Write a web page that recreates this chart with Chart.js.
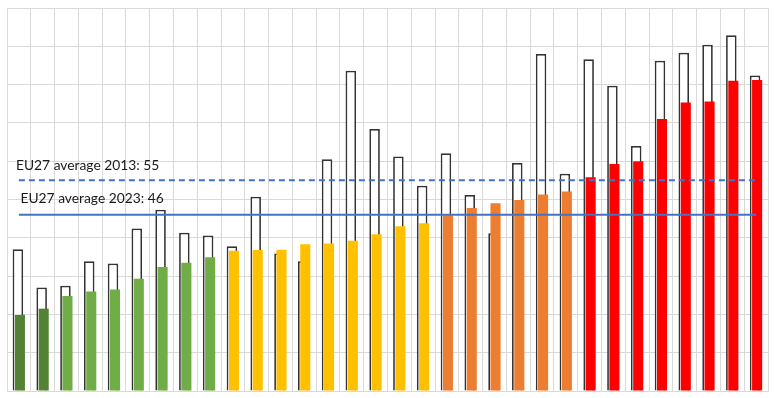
<!DOCTYPE html>
<html>
<head>
<meta charset="utf-8">
<script src="https://cdn.jsdelivr.net/npm/chart.js@4.4.1/dist/chart.umd.min.js"></script>
<style>
  html, body { margin: 0; padding: 0; background: #fff; }
  #wrap { width: 776px; height: 398px; }
</style>
</head>
<body>
<div id="wrap"><canvas id="chart"></canvas></div>
<script>
// one entry per country, sorted by the 2023 value
const categories = ["1", "2", "3", "4", "5", "6", "7", "8", "9", "10", "11", "12", "13", "14", "15", "16",
  "17", "18", "19", "20", "21", "22", "23", "24", "25", "26", "27", "28", "29", "30", "31", "32"];
const values2013 = [37.0, 27.0, 27.5, 33.9, 33.3, 42.4, 47.3, 41.3, 40.6, 37.8, 50.7, 35.9, 33.9, 60.5, 83.6, 68.4,
  61.2, 53.6, 62.1, 51.2, 41.2, 59.5, 88.0, 56.7, 86.6, 79.7, 64.0, 86.2, 88.3, 90.4, 92.9, 82.4];
const values2023 = [19.9, 21.5, 24.8, 26.0, 26.5, 29.3, 32.4, 33.5, 34.9, 36.6, 36.8, 36.9, 38.3, 38.5, 39.2, 40.9,
  43.0, 43.8, 45.9, 47.8, 49.0, 49.9, 51.3, 52.1, 55.8, 59.3, 60.0, 71.0, 75.3, 75.6, 81.0, 81.2];
// colour band of each country
const bands = [0, 0, 1, 1, 1, 1, 1, 1, 1, 2, 2, 2, 2, 2, 2, 2,
  2, 2, 3, 3, 3, 3, 3, 3, 4, 4, 4, 4, 4, 4, 4, 4];
const avg2013 = 55;
const avg2023 = 46;
const yMin = 0, yMax = 100, yStep = 10;

const bandColors = ["#548235", "#70AD47", "#FFC000", "#ED7D31", "#FF0000"];
const lineBlue = "#4472C4";

const avgLabels = {
  id: "avgLabels",
  afterDatasetsDraw(chart) {
    const { ctx, scales: { x, y } } = chart;
    ctx.save();
    ctx.font = "13.8px Lato";
    ctx.fillStyle = "#1a1a1a";
    ctx.textBaseline = "alphabetic";
    ctx.fillText("EU27 average 2013: " + avg2013, x.left + 9, y.getPixelForValue(avg2013) - 10.5);
    ctx.fillText("EU27 average 2023: " + avg2023, x.left + 13.5, y.getPixelForValue(avg2023) - 11.5);
    ctx.restore();
  }
};

const first = categories[0], last = categories[categories.length - 1];

new Chart(document.getElementById("chart"), {
  type: "bar",
  data: {
    labels: categories,
    datasets: [
      { type: "line", label: "EU27 2013", data: [{ x: first, y: avg2013 }, { x: last, y: avg2013 }],
        borderColor: lineBlue, borderWidth: 2, borderDash: [6, 4], pointRadius: 0, fill: false },
      { type: "line", label: "EU27 2023", data: [{ x: first, y: avg2023 }, { x: last, y: avg2023 }],
        borderColor: lineBlue, borderWidth: 2, pointRadius: 0, fill: false },
      // empty bar set: keeps the 2013 outline in the left slot while 2023 is painted above it
      { label: "", data: [], stack: "left" },
      { label: "2023", data: values2023, stack: "right",
        backgroundColor: bands.map(b => bandColors[b]), borderWidth: 0,
        categoryPercentage: 0.17, barPercentage: 5.0 },
      { label: "2013", data: values2013, stack: "left",
        backgroundColor: "#fff", borderColor: "#333", borderWidth: 1.75,
        categoryPercentage: 0.17, barPercentage: 5.2 }
    ]
  },
  options: {
    responsive: true,
    maintainAspectRatio: false,
    animation: false,
    events: [],
    layout: { padding: { left: 7, top: 8, right: 8, bottom: 7 } },
    plugins: { legend: { display: false }, tooltip: { enabled: false } },
    scales: {
      x: {
        grid: { color: "#d9d9d9", drawTicks: false },
        border: { color: "#d9d9d9" },
        ticks: { display: false }
      },
      y: {
        stacked: false,
        min: yMin, max: yMax,
        grid: { color: "#d9d9d9", drawTicks: false },
        border: { color: "#d9d9d9" },
        ticks: { display: false, stepSize: yStep }
      }
    }
  },
  plugins: [avgLabels]
});
</script>
</body>
</html>
